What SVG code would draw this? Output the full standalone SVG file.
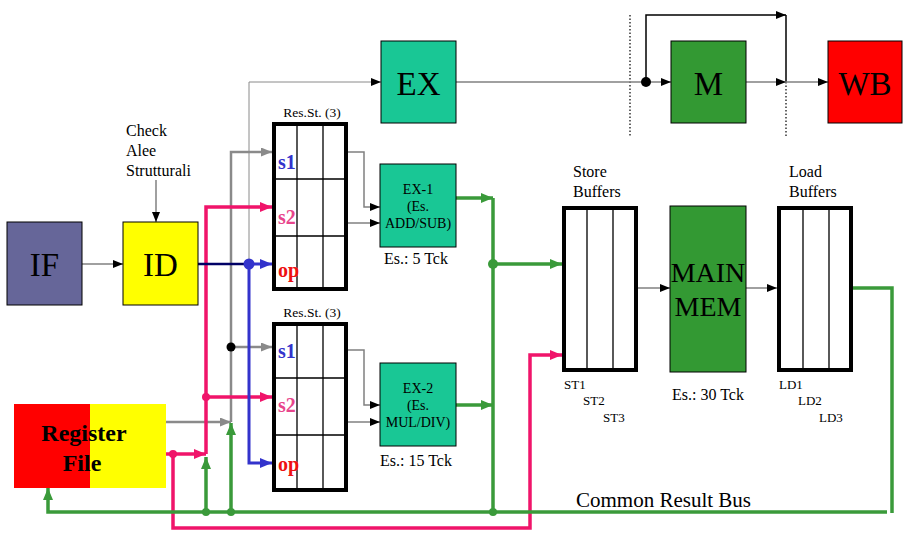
<svg xmlns="http://www.w3.org/2000/svg" width="917" height="539" viewBox="0 0 917 539" font-family="'Liberation Serif', 'DejaVu Serif', serif">
<style>
.big{font-size:33px;text-anchor:middle}
.mid{font-size:28px;text-anchor:middle}
.sm{font-size:14px;text-anchor:middle}
.lbl{font-size:16px}
.tiny{font-size:13px}
.rs{fill:#fff;stroke:#000;stroke-width:4}
.cell{stroke:#000;stroke-width:1.3;fill:none}
.reg{font-size:20px;font-weight:bold}
.thin{fill:none;stroke:#808080;stroke-width:1.5}
.thin1{fill:none;stroke:#8a8a8a;stroke-width:1}
.blk{fill:none;stroke:#000;stroke-width:1.5}
.gray{fill:none;stroke:#8a8a8a;stroke-width:2.5}
.pink{fill:none;stroke:#f0146a;stroke-width:3.5}
.blue{fill:none;stroke:#3333cc;stroke-width:3}
.grn{fill:none;stroke:#3a9a3a;stroke-width:3.5}
.dot{fill:none;stroke:#000;stroke-width:1.2;stroke-dasharray:1.5 2}
</style>
<defs>
<marker id="aK" markerUnits="userSpaceOnUse" markerWidth="10" markerHeight="8" refX="10" refY="4" orient="auto"><path d="M0,0L10,4L0,8z" fill="#000"/></marker>
<marker id="aG" markerUnits="userSpaceOnUse" markerWidth="11" markerHeight="9" refX="11" refY="4.5" orient="auto"><path d="M0,0L11,4.5L0,9z" fill="#8a8a8a"/></marker>
<marker id="aP" markerUnits="userSpaceOnUse" markerWidth="12" markerHeight="10" refX="12" refY="5" orient="auto"><path d="M0,0L12,5L0,10z" fill="#f0146a"/></marker>
<marker id="aB" markerUnits="userSpaceOnUse" markerWidth="12" markerHeight="10" refX="12" refY="5" orient="auto"><path d="M0,0L12,5L0,10z" fill="#3333cc"/></marker>
<marker id="aN" markerUnits="userSpaceOnUse" markerWidth="12" markerHeight="10" refX="12" refY="5" orient="auto"><path d="M0,0L12,5L0,10z" fill="#3a9a3a"/></marker>
</defs>
<rect width="917" height="539" fill="#fff"/>

<g id="connectors">
<path class="dot" d="M630,15V137M786,82V137"/>
<path class="thin" d="M82,264H123" marker-end="url(#aK)"/>
<path class="thin" d="M156,180V222" marker-end="url(#aK)"/>
<path class="thin1" d="M249,264V82H381" marker-end="url(#aK)"/>
<path class="thin" d="M456,82H671" marker-end="url(#aK)"/>
<path class="blk" d="M646,82V15H786" marker-end="url(#aK)"/>
<path class="blk" d="M786,15V82"/>
<path class="thin" d="M746,82H786" marker-end="url(#aK)"/>
<path class="thin" d="M786,82H828" marker-end="url(#aK)"/>
<circle cx="646" cy="82" r="5" fill="#000"/>
<path class="thin" d="M348,152H364V207H380" marker-end="url(#aK)"/>
<path class="thin" d="M348,223H380" marker-end="url(#aK)"/>
<path class="thin" d="M348,350H364V405H380" marker-end="url(#aK)"/>
<path class="thin" d="M348,422H380" marker-end="url(#aK)"/>
<path class="thin" d="M638,288H670" marker-end="url(#aK)"/>
<path class="thin" d="M746,288H777" marker-end="url(#aK)"/>
<path class="gray" d="M166,422H231" marker-end="url(#aG)"/>
<path class="gray" d="M231,422V152H272" marker-end="url(#aG)"/>
<path class="gray" d="M231,347H272" marker-end="url(#aG)"/>
<circle cx="231" cy="347" r="4.5" fill="#000"/>
<path class="pink" d="M166,454H206" marker-end="url(#aP)"/>
<path class="pink" d="M206,454V207H272" marker-end="url(#aP)"/>
<path class="pink" d="M206,397H272" marker-end="url(#aP)"/>
<path class="pink" d="M173,454V528H530V355H562" marker-end="url(#aP)"/>
<circle cx="206" cy="397" r="4" fill="#f0146a"/>
<circle cx="173" cy="454" r="4" fill="#f0146a"/>
<path class="grn" d="M887,512H48V488" marker-end="url(#aN)"/>
<path class="grn" d="M206,512V457" marker-end="url(#aN)"/>
<path class="grn" d="M231,512V423" marker-end="url(#aN)"/>
<path class="grn" d="M456,198H493" marker-end="url(#aN)"/>
<path class="grn" d="M493,198V515"/>
<path class="grn" d="M493,264H562" marker-end="url(#aN)"/>
<path class="grn" d="M456,405H493" marker-end="url(#aN)"/>
<path class="grn" d="M852,288H892V513"/>
<circle cx="206" cy="512" r="4" fill="#3a9a3a"/>
<circle cx="231" cy="512" r="4" fill="#3a9a3a"/>
<circle cx="493" cy="512" r="4" fill="#3a9a3a"/>
<circle cx="493" cy="264" r="5" fill="#3a9a3a"/>
<path d="M198,264H249" fill="none" stroke="#000066" stroke-width="2.5"/>
<path class="blue" d="M249,264H272" marker-end="url(#aB)"/>
<path class="blue" d="M249,264V463H272" marker-end="url(#aB)"/>
<circle cx="249" cy="264" r="5.5" fill="#3333cc"/>
</g>

<g id="IF"><rect x="7" y="222" width="75" height="83" fill="#666699" stroke="#000" stroke-width="1"/><text class="big" x="44.5" y="276">IF</text></g>
<g id="ID"><rect x="123" y="222" width="75" height="83" fill="#ffff00" stroke="#000" stroke-width="1"/><text class="big" x="160.5" y="276">ID</text></g>
<g id="check"><text class="lbl" x="126" y="136">Check</text><text class="lbl" x="126" y="156">Alee</text><text class="lbl" x="126" y="176">Strutturali</text></g>
<g id="EX"><rect x="381" y="41" width="75" height="82" fill="#19c795" stroke="#000" stroke-width="1"/><text class="big" x="418.5" y="95">EX</text></g>
<g id="M"><rect x="671" y="41" width="75" height="82" fill="#339933" stroke="#000" stroke-width="1"/><text class="big" x="708.5" y="95">M</text></g>
<g id="WB"><rect x="828" y="41" width="74" height="82" fill="#ff0000" stroke="#000" stroke-width="1"/><text class="big" x="865" y="95">WB</text></g>

<g id="RS1">
<text x="312" y="117" font-size="13.5" text-anchor="middle">Res.St. (3)</text>
<rect class="rs" x="274" y="124" width="72" height="165"/>
<path class="cell" d="M297,124V289M323,124V289M274,179H346M274,236H346"/>
<text class="reg" x="278" y="169" fill="#3333cc">s1</text>
<text class="reg" x="278" y="224" fill="#e8458c">s2</text>
<text class="reg" x="278" y="277" fill="#ee1111">op</text>
</g>
<g id="RS2">
<text x="312" y="317" font-size="13.5" text-anchor="middle">Res.St. (3)</text>
<rect class="rs" x="274" y="324" width="72" height="166"/>
<path class="cell" d="M297,324V490M323,324V490M274,378H346M274,435H346"/>
<text class="reg" x="278" y="358" fill="#3333cc">s1</text>
<text class="reg" x="278" y="412" fill="#e8458c">s2</text>
<text class="reg" x="278" y="471" fill="#ee1111">op</text>
</g>

<g id="EX1"><rect x="380" y="164" width="76" height="83" fill="#19c795" stroke="#000" stroke-width="1"/><text class="sm" x="418" y="194">EX-1</text><text class="sm" x="418" y="211">(Es.</text><text class="sm" x="418" y="228">ADD/SUB)</text><text class="lbl" x="416" y="264" text-anchor="middle">Es.: 5 Tck</text></g>
<g id="EX2"><rect x="380" y="363" width="76" height="83" fill="#19c795" stroke="#000" stroke-width="1"/><text class="sm" x="418" y="393">EX-2</text><text class="sm" x="418" y="410">(Es.</text><text class="sm" x="418" y="427">MUL/DIV)</text><text class="lbl" x="416" y="466" text-anchor="middle">Es.: 15 Tck</text></g>

<g id="RegisterFile"><rect x="14" y="404" width="76" height="84" fill="#ff0000"/><rect x="90" y="404" width="76" height="84" fill="#ffff00"/><text x="84" y="441" font-size="24" font-weight="bold" text-anchor="middle">Register</text><text x="82" y="471" font-size="24" font-weight="bold" text-anchor="middle">File</text></g>

<g id="StoreBuffers"><text class="lbl" x="573" y="177">Store</text><text class="lbl" x="573" y="197">Buffers</text>
<rect class="rs" x="564" y="208" width="72" height="162"/><path class="cell" d="M587,208V370M613,208V370"/>
<text class="tiny" x="564" y="389">ST1</text><text class="tiny" x="583" y="405">ST2</text><text class="tiny" x="603" y="422">ST3</text></g>
<g id="MainMem"><rect x="670" y="206" width="76" height="166" fill="#339933" stroke="#000" stroke-width="1"/><text class="mid" x="708" y="282">MAIN</text><text class="mid" x="708" y="316">MEM</text><text class="lbl" x="708" y="400" text-anchor="middle">Es.: 30 Tck</text></g>
<g id="LoadBuffers"><text class="lbl" x="789" y="177">Load</text><text class="lbl" x="789" y="197">Buffers</text>
<rect class="rs" x="779" y="208" width="72" height="162"/><path class="cell" d="M803,208V370M829,208V370"/>
<text class="tiny" x="779" y="389">LD1</text><text class="tiny" x="798" y="405">LD2</text><text class="tiny" x="819" y="422">LD3</text></g>

<g id="bus"><text x="576" y="507" font-size="21">Common Result Bus</text></g>
</svg>
